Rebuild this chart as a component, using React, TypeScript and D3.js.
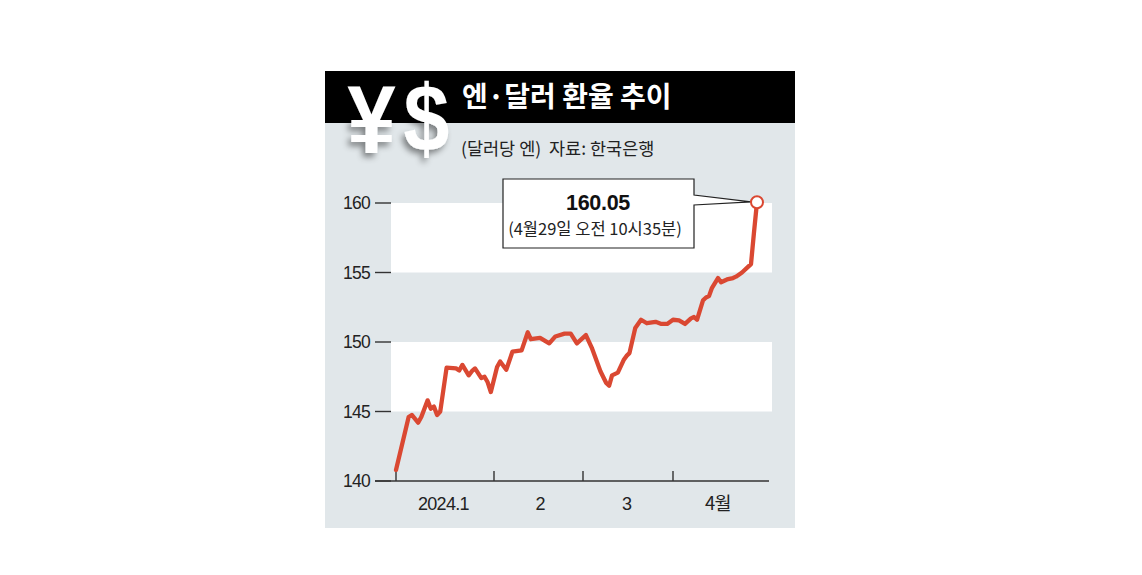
import React from "react";
import * as d3 from "d3";

// ---- data ----
const dates: string[] = [
  "2024-01-01","2024-01-05","2024-01-06","2024-01-08","2024-01-09","2024-01-11","2024-01-12","2024-01-13","2024-01-14","2024-01-15",
  "2024-01-17","2024-01-20","2024-01-21","2024-01-22","2024-01-24","2024-01-25","2024-01-26","2024-01-28","2024-01-29","2024-01-30","2024-01-31",
  "2024-02-02","2024-02-03","2024-02-05","2024-02-07","2024-02-10","2024-02-12","2024-02-13","2024-02-16","2024-02-19","2024-02-21","2024-02-24","2024-02-26","2024-02-28",
  "2024-03-02","2024-03-04","2024-03-07","2024-03-09","2024-03-10","2024-03-11","2024-03-13","2024-03-15","2024-03-16","2024-03-17","2024-03-19","2024-03-21","2024-03-23","2024-03-26","2024-03-28","2024-03-30",
  "2024-04-01","2024-04-03","2024-04-05","2024-04-07","2024-04-08","2024-04-09","2024-04-11","2024-04-12","2024-04-13","2024-04-14","2024-04-16","2024-04-17","2024-04-19","2024-04-21","2024-04-22","2024-04-24","2024-04-26","2024-04-27","2024-04-28","2024-04-29",
];
const values: number[] = [
  140.8,144.6,144.75,144.2,144.6,145.8,145.2,145.35,144.75,145.0,
  148.15,148.1,147.95,148.35,147.6,147.9,148.1,147.4,147.5,147.1,146.4,
  148.2,148.6,148.0,149.3,149.4,150.7,150.2,150.3,149.9,150.4,150.6,150.6,149.9,
  150.5,149.6,147.9,147.05,146.85,147.6,147.8,148.7,149.0,149.2,151.0,151.6,151.35,151.45,151.3,151.3,
  151.6,151.55,151.3,151.7,151.8,151.6,153.0,153.2,153.3,153.9,154.6,154.3,154.5,154.6,154.7,155.0,155.4,155.6,157.9,160.05,
];
const yTicks: number[] = [140, 145, 150, 155, 160];
const bandRanges: [number, number][] = [[145, 150], [155, 160]];
const monthTicks: string[] = ["2024-01-01", "2024-02-01", "2024-03-01", "2024-04-01"];
const monthLabelDates: string[] = ["2024-01-16", "2024-02-16", "2024-03-16", "2024-04-16"];
const monthLabels: string[] = ["2024.1", "2", "3", "4월"];
const title = "엔·달러 환율 추이";
const subtitleUnit = "(달러당 엔)";
const subtitleSource = "자료: 한국은행";
const calloutValue = "160.05";
const calloutNote = "(4월29일 오전 10시35분)";

const parse = d3.timeParse("%Y-%m-%d");

export default function App() {
  const x = d3
    .scaleTime()
    .domain(["2024-01-01", "2024-02-01", "2024-03-01", "2024-04-01", "2024-04-29"].map((s) => parse(s) as Date))
    .range([396, 494, 583, 673, 757]);
  const y = d3.scaleLinear().domain([140, 160]).range([481, 203]);

  const pts = dates.map((d, i) => ({ d: parse(d) as Date, v: values[i] }));
  const line = d3
    .line<{ d: Date; v: number }>()
    .x((p) => x(p.d))
    .y((p) => y(p.v))
    .curve(d3.curveLinear);

  const last = pts[pts.length - 1];
  const lx = x(last.d);
  const ly = y(last.v);

  const numFont = "'Liberation Sans', Arial, sans-serif";
  const krFont = "'Noto Sans CJK KR', 'Noto Sans', sans-serif";

  return (
    <svg
      width={1142}
      height={575}
      style={{ position: "absolute", left: 0, top: 0 }}
    >
      <defs>
        <filter id="sh" x="-30%" y="-30%" width="160%" height="160%">
          <feDropShadow dx={-3} dy={4} stdDeviation={3} floodColor="#000" floodOpacity={0.45} />
        </filter>
      </defs>
      {/* panel */}
      <rect x={325} y={71} width={470} height={457} fill="#e1e7ea" />
      <rect x={325} y={71} width={470} height={52} fill="#000" />

      {/* bands */}
      {bandRanges.map(([a, b], i) => (
        <rect key={i} x={391} y={y(b)} width={381} height={y(a) - y(b)} fill="#fff" />
      ))}

      {/* y ticks */}
      {yTicks.map((t) => (
        <g key={t}>
          <line x1={375} x2={391} y1={y(t)} y2={y(t)} stroke="#333" strokeWidth={1.4} />
          <text
            x={370}
            y={y(t) + 6}
            textAnchor="end"
            fontFamily={numFont}
            fontSize={17.5}
            letterSpacing={-0.7}
            fill="#222"
          >
            {t}
          </text>
        </g>
      ))}

      {/* x axis */}
      <line x1={375} x2={769} y1={y(140)} y2={y(140)} stroke="#333" strokeWidth={1.4} />
      {monthTicks.map((m) => (
        <line key={m} x1={x(parse(m) as Date)} x2={x(parse(m) as Date)} y1={471} y2={481} stroke="#333" strokeWidth={1.4} />
      ))}
      {monthLabels.map((l, i) => (
        <text
          key={l}
          x={x(parse(monthLabelDates[i]) as Date)}
          y={510}
          textAnchor="middle"
          fontFamily={l.includes("월") ? krFont : numFont}
          fontSize={l.includes("월") ? 18.5 : 18}
          letterSpacing={-0.7}
          fill="#222"
        >
          {l}
        </text>
      ))}

      {/* callout */}
      <path
        d={`M503,179 H694 V195 L${lx - 6},${ly - 0.5} L694,205 V248 H503 Z`}
        fill="#fff"
        stroke="#222"
        strokeWidth={1.2}
      />
      <text x={598} y={209.5} textAnchor="middle" fontFamily={numFont} fontWeight={700} fontSize={21.5} letterSpacing={-0.3} fill="#111">
        {calloutValue}
      </text>
      <text x={595} y={234.5} textAnchor="middle" fontFamily={krFont} fontSize={16.5} fill="#222">
        {calloutNote}
      </text>

      {/* line */}
      <path
        d={line(pts) || ""}
        fill="none"
        stroke="#da4832"
        strokeWidth={4.3}
        strokeLinejoin="round"
        strokeLinecap="round"
      />
      <circle cx={lx} cy={ly} r={6} fill="#fff" stroke="#da4832" strokeWidth={2} />

      {/* header */}
      <g filter="url(#sh)" fill="#fff" fontFamily={numFont} fontWeight={700} fontSize={97}>
        <text transform="translate(371.5,153) scale(0.9,1)" textAnchor="middle">¥</text>
        <text transform="translate(426.5,151) scale(0.85,0.97)" textAnchor="middle">$</text>
      </g>
      <text x={462} y={107} fontFamily={krFont} fontWeight={700} fontSize={28} fill="#fff">
        {title}
      </text>
      <text x={461} y={154.5} fontFamily={krFont} fontSize={17.5} fill="#222">
        {subtitleUnit}
      </text>
      <text x={549} y={154.5} fontFamily={krFont} fontSize={17.5} fill="#222">
        {subtitleSource}
      </text>
    </svg>
  );
}
